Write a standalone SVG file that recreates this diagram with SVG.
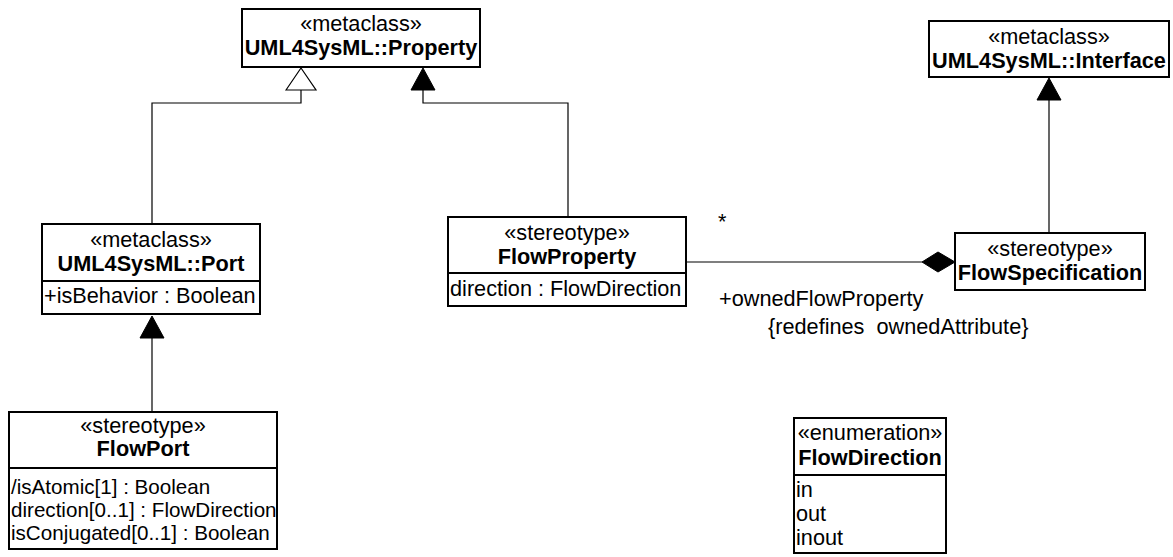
<svg xmlns="http://www.w3.org/2000/svg" width="1173" height="557" viewBox="0 0 1173 557">
<style>
.box{fill:#fff;stroke:#000;stroke-width:2}
.ln{fill:none;stroke:#000;stroke-width:1.2}
text{font-family:"Liberation Sans",Arial,sans-serif;font-size:21.7px;fill:#000}
.c{text-anchor:middle}
.b{font-weight:bold}
.s{font-size:20.6px}
</style>
<defs>
<marker id="gen" markerWidth="24" markerHeight="32" refX="0" refY="16" orient="auto" markerUnits="userSpaceOnUse" overflow="visible">
<path d="M0,1 L22,16 L0,31 Z" fill="#fff" stroke="#000" stroke-width="1.2"/>
</marker>
<marker id="ext" markerWidth="24" markerHeight="26" refX="0" refY="13" orient="auto" markerUnits="userSpaceOnUse" overflow="visible">
<path d="M0,1 L22,13 L0,25 Z" fill="#000" stroke="#000" stroke-width="1"/>
</marker>
</defs>
<g id="connectors">
<path class="ln" d="M152,224 V103 H301 V90" marker-end="url(#gen)"/>
<path class="ln" d="M568,217 V103 H423 V90" marker-end="url(#ext)"/>
<path class="ln" d="M1049,233 V100" marker-end="url(#ext)"/>
<path class="ln" d="M152,412 V338" marker-end="url(#ext)"/>
<path class="ln" d="M686,262 H922"/>
<path d="M922,262 L938,252 L955,262 L938,272 Z" fill="#000" stroke="#000" stroke-width="1"/>
<text x="718" y="229">*</text>
<text x="719" y="306">+ownedFlowProperty</text>
<text x="768" y="334" xml:space="preserve">{redefines  ownedAttribute}</text>
</g>
<g id="Property">
<rect class="box" x="242" y="9" width="238" height="58"/>
<text class="c" x="361" y="31">«metaclass»</text>
<text class="c b" x="361" y="55">UML4SysML::Property</text>
</g>
<g id="Interface">
<rect class="box" x="929" y="21" width="240" height="56"/>
<text class="c" x="1049" y="44">«metaclass»</text>
<text class="c b" x="1049" y="68">UML4SysML::Interface</text>
</g>
<g id="Port">
<rect class="box" x="42" y="224" width="218" height="90"/>
<line class="box" x1="42" y1="281" x2="260" y2="281"/>
<text class="c" x="151" y="247">«metaclass»</text>
<text class="c b" x="151" y="271">UML4SysML::Port</text>
<text x="44" y="303">+isBehavior : Boolean</text>
</g>
<g id="FlowProperty">
<rect class="box" x="448" y="217" width="238" height="89"/>
<line class="box" x1="448" y1="273" x2="686" y2="273"/>
<text class="c" x="567" y="240">«stereotype»</text>
<text class="c b" x="567" y="264">FlowProperty</text>
<text x="450" y="296">direction : FlowDirection</text>
</g>
<g id="FlowSpecification">
<rect class="box" x="955" y="233" width="190" height="57"/>
<text class="c" x="1050" y="256">«stereotype»</text>
<text class="c b" x="1050" y="280">FlowSpecification</text>
</g>
<g id="FlowPort">
<rect class="box" x="9" y="412" width="268" height="137"/>
<line class="box" x1="9" y1="468" x2="277" y2="468"/>
<text class="c" x="143" y="433">«stereotype»</text>
<text class="c b" x="143" y="456">FlowPort</text>
<text class="s" x="11" y="494">/isAtomic[1] : Boolean</text>
<text class="s" x="11" y="517">direction[0..1] : FlowDirection</text>
<text class="s" x="11" y="540">isConjugated[0..1] : Boolean</text>
</g>
<g id="FlowDirection">
<rect class="box" x="794" y="418" width="152" height="135"/>
<line class="box" x1="794" y1="475" x2="946" y2="475"/>
<text class="c" x="870" y="440">«enumeration»</text>
<text class="c b" x="870" y="465">FlowDirection</text>
<text x="796" y="497">in</text>
<text x="796" y="521">out</text>
<text x="796" y="545">inout</text>
</g>
</svg>
